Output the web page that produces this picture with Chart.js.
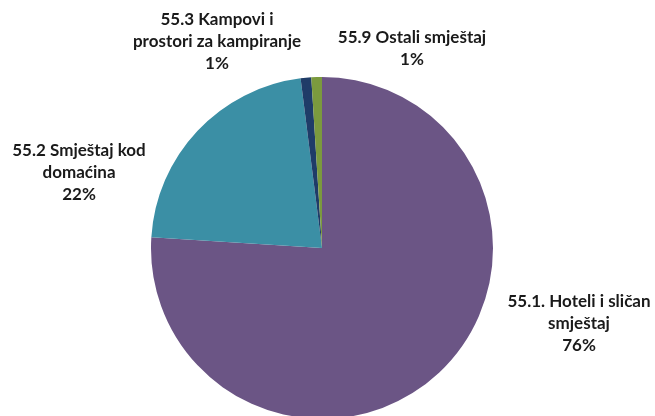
<!DOCTYPE html>
<html>
<head>
<meta charset="utf-8">
<script src="https://cdn.jsdelivr.net/npm/chart.js@4"></script>
<style>
    html, body { margin: 0; padding: 0; background: #fff; overflow: hidden; }
    #wrap { width: 655px; height: 416px; overflow: hidden; }
</style>
</head>
<body>
<div id="wrap"><canvas id="pie" width="655" height="440"></canvas></div>
<script>
// Accommodation structure by activity
const categories = [
    ['55.1. Hoteli i sličan', 'smještaj'],
    ['55.2 Smještaj kod', 'domaćina'],
    ['55.3 Kampovi i', 'prostori za kampiranje'],
    ['55.9 Ostali smještaj']
];
const shares = [76, 22, 1, 1];
const colors = ['#6b5585', '#3b8fa5', '#1f3c68', '#7b9a3e'];

// where each label block is centred (first line)
const labelAnchors = [[579, 302], [79, 151], [217, 20], [412, 38]];

const outsideLabels = {
    id: 'outsideLabels',
    afterDraw(chart) {
        const ctx = chart.ctx;
        ctx.save();
        ctx.font = 'bold 17px Lato, "Open Sans", sans-serif';
        ctx.fillStyle = '#1a1a1a';
        ctx.textAlign = 'center';
        ctx.textBaseline = 'middle';
        chart.data.labels.forEach((lines, i) => {
            const [x, y] = labelAnchors[i];
            const all = lines.concat([shares[i] + '%']);
            all.forEach((t, j) => ctx.fillText(t, x, y + j * 22));
        });
        ctx.restore();
    }
};

new Chart(document.getElementById('pie'), {
    type: 'pie',
    data: {
        labels: categories,
        datasets: [{
            data: shares,
            backgroundColor: colors,
            borderWidth: 0
        }]
    },
    options: {
        responsive: false,
        animation: false,
        layout: { padding: { left: 151, right: 162, top: 77, bottom: 21 } },
        plugins: {
            legend: { display: false },
            tooltip: { enabled: false }
        }
    },
    plugins: [outsideLabels]
});
</script>
</body>
</html>
